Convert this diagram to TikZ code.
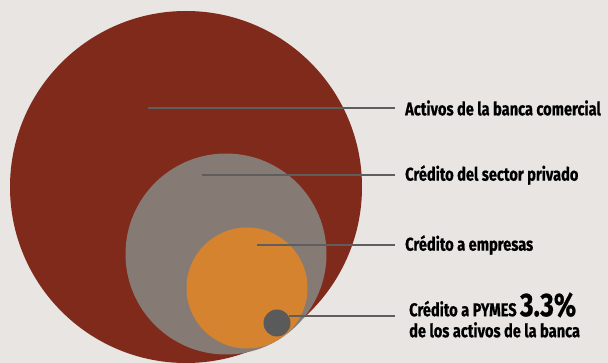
\documentclass[tikz,border=0pt]{standalone}
\usepackage{fontspec}
\setmainfont{Fira Sans}[FakeStretch=0.79,FakeBold=0.6]
\usetikzlibrary{positioning}
\definecolor{paper}{HTML}{E8E5E3}
\definecolor{bankred}{HTML}{7F2A1B}
\definecolor{privgray}{HTML}{857B74}
\definecolor{firmorange}{HTML}{D6832F}
\definecolor{pymesgray}{HTML}{5B5A5A}
\definecolor{leadgray}{HTML}{5F5E5E}
\tikzset{%
	disc/.style   = {circle, inner sep=0pt, draw=none}, % nested circles
	leader/.style = {draw=leadgray, line width=2pt, shorten >=10pt},
	tag/.style    = {anchor=west, inner sep=0pt, align=left, font=\bfseries\fontsize{18.5}{21}\selectfont},
}

\begin{document}
\begin{tikzpicture}[x=1pt,y=-1pt]
	\fill[paper] (0,0) rectangle (608,363);
	\useasboundingbox (0,0) rectangle (608,363);
	\clip (0,0) rectangle (608,363);
	
	\node[disc,fill=bankred,minimum size=352pt] (banca) at (186,187) {};
	\node[disc,fill=privgray,minimum size=201pt] (privado) at (226,254) {};
	\node[disc,fill=firmorange,minimum size=121pt] (empresas) at (247,288) {};
	\node[disc,fill=pymesgray,minimum size=27pt] (pymes) at (277,323) {};
	
	\coordinate (p1) at (148,108);
	\coordinate (p2) at (202,175);
	\coordinate (p3) at (257,245);
	
	\node[tag] (t1) at (405,108) {Activos de la banca comercial};
	\node[tag] (t2) at (405,175) {Crédito del sector privado};
	\node[tag] (t3) at (405,245) {Crédito a empresas};
	\node[tag] (t4) at (409,315) {Crédito a PYMES {\fontsize{33}{33}\selectfont 3.3\%}\\de los activos de la banca};
	
	\draw[leader] (p1) -- (p1 -| t1.west);
	\draw[leader] (p2) -- (p2 -| t2.west);
	\draw[leader] (p3) -- (p3 -| t3.west);
	\draw[leader,shorten >=14pt] (pymes.30) -- (pymes.30 -| t4.west);
\end{tikzpicture}
\end{document}
